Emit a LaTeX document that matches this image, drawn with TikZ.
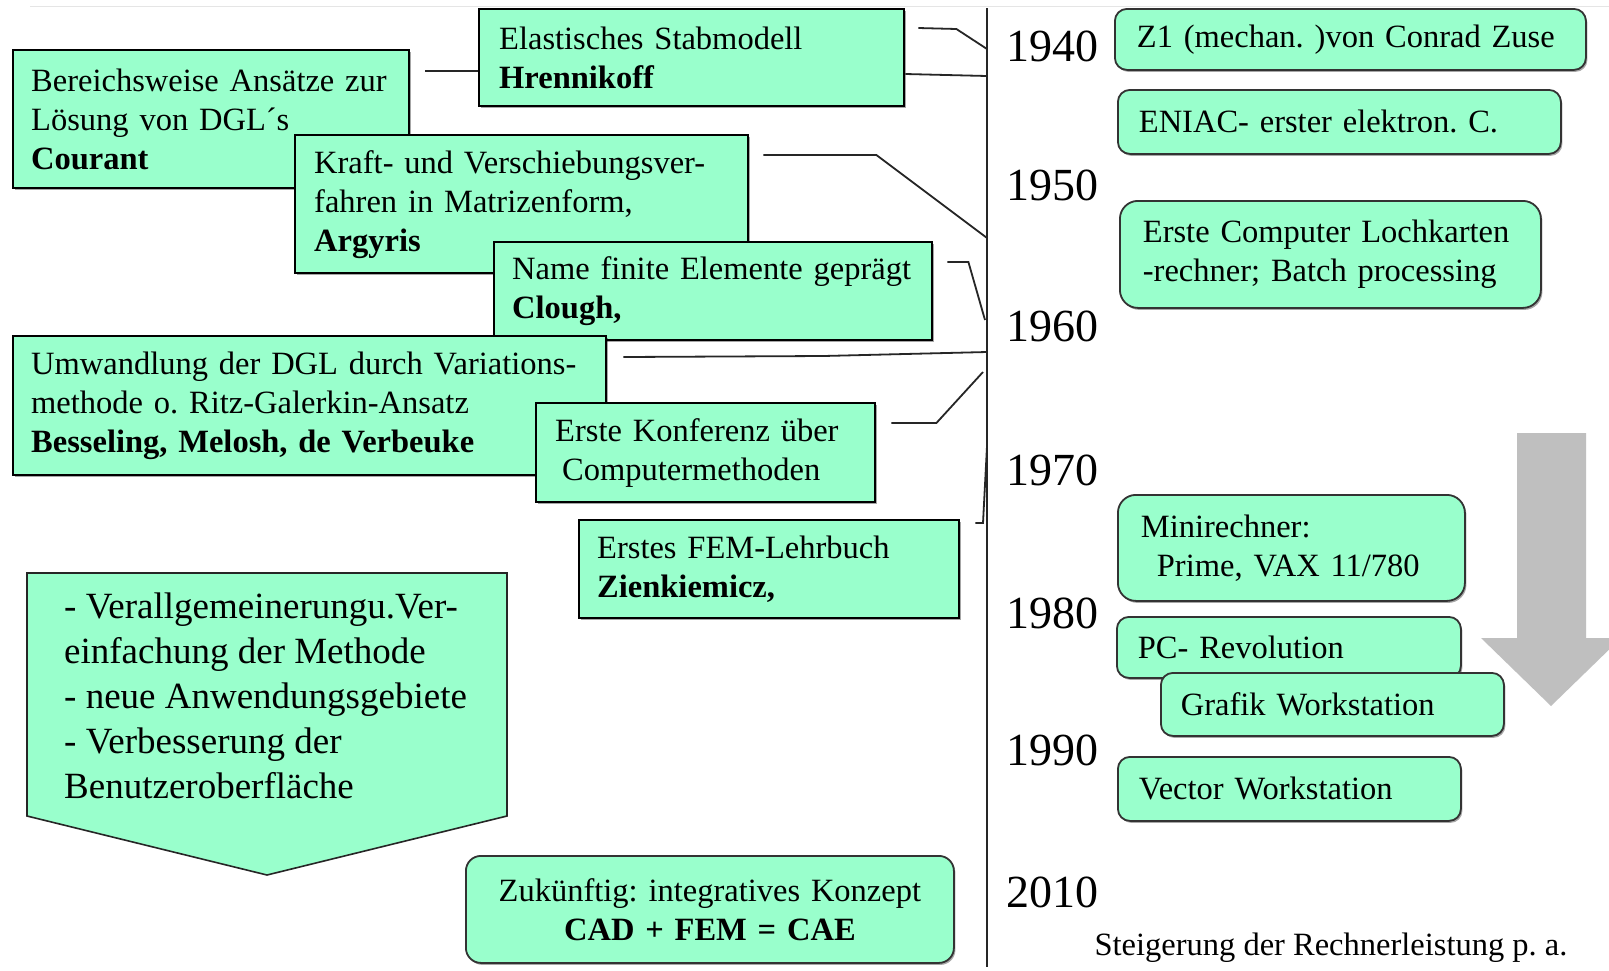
\documentclass[tikz,border=0pt]{standalone}
\usepackage{fontspec}
\setmainfont{Liberation Serif}
\usetikzlibrary{calc,shadows}
\definecolor{mint}{HTML}{99FFCC}
\definecolor{arrgray}{HTML}{BFBFBF}
\newcommand{\fsbox}{\fontsize{32.5}{39}\selectfont\frenchspacing}
\newcommand{\fsyear}{\fontsize{46}{50}\selectfont}
\newcommand{\fspent}{\fontsize{37}{45}\selectfont\frenchspacing}
\newcommand{\padl}[1]{\leftskip=#1pt\relax}
\begin{document}
\begin{tikzpicture}[x=1pt,y=-1pt,
  shad/.style={drop shadow={shadow xshift=1.5pt, shadow yshift=-2pt, opacity=0.35, fill=black}},
  sqbox/.style={draw=black, line width=2.4pt, fill=mint, anchor=north west, inner sep=0pt, align=left, font=\fsbox, shad},
  rdbox/.style={draw=black!80, line width=1.8pt, fill=mint, rounded corners=12pt, anchor=north west, inner sep=0pt, align=left, font=\fsbox, shad},
  year/.style={font=\fsyear, inner sep=0pt, anchor=center},
  conn/.style={draw=black!85, line width=1.8pt},
]
\useasboundingbox (0,0) rectangle (1609,970);
\fill[white] (0,0) rectangle (1609,970);
\draw[black!10, line width=1pt] (30,6) -- (1609,6);

% timeline
\coordinate (ttop) at (987,8);
\coordinate (tbot) at (987,967);
\draw[black!85, line width=2pt] (ttop) -- (tbot);

% years
\node[year] (y1940) at (1052,46) {1940};
\node[year] (y1950) at (1052,185) {1950};
\node[year] (y1960) at (1052,326) {1960};
\node[year] (y1970) at (1052,470) {1970};
\node[year] (y1980) at (1052,613) {1980};
\node[year] (y1990) at (1052,750) {1990};
\node[year] (y2010) at (1052,892) {2010};

% left boxes
\node[sqbox, minimum width=425, text width=425, minimum height=97] (hren) at (478,8)
  {\padl{20}Elastisches Stabmodell\\\textbf{Hrennikoff}\par};
\node[sqbox, minimum width=396, text width=396, minimum height=138] (courant) at (12,49)
  {\padl{18}Bereichsweise Ansätze zur\\Lösung von DGL´s\\\textbf{Courant}\par};
\node[sqbox, minimum width=453, text width=453, minimum height=138] (argyris) at (294,134)
  {\padl{19}Kraft- und Verschiebungsver-\\fahren in Matrizenform,\\\textbf{Argyris}\par};
\node[sqbox, minimum width=438, text width=438, minimum height=98] (clough) at (493,241)
  {\padl{18}Name finite Elemente geprägt\\\textbf{Clough,}\par};
\node[sqbox, minimum width=593, text width=593, minimum height=139] (bess) at (12,335)
  {\padl{18}Umwandlung der DGL durch Variations-\\methode o. Ritz-Galerkin-Ansatz\\\textbf{Besseling, Melosh, de Verbeuke}\par};
\node[sqbox, minimum width=339, text width=339, minimum height=99] (konf) at (535,402)
  {\padl{19}Erste Konferenz über\\\hspace*{7pt}Computermethoden\par};
\node[sqbox, minimum width=380, text width=380, minimum height=98] (zien) at (578,519)
  {\padl{18}Erstes FEM-Lehrbuch\\\textbf{Zienkiemicz,}\par};

% pentagon arrow
\path[draw=black!85, line width=1.6pt, fill=mint] (27,573) coordinate (p1) -- (507,573) coordinate (p2)
  -- (507,816) coordinate (p3) -- (267,875) coordinate (p4) -- (27,816) coordinate (p5) -- cycle;
\node[font=\fspent, align=left, anchor=west, inner sep=0pt] (pent) at (64,696)
  {- Verallgemeinerungu.Ver-\\einfachung der Methode\\- neue Anwendungsgebiete\\- Verbesserung der\\Benutzeroberfläche};

% future box
\node[rdbox, minimum width=488, text width=488, minimum height=107, align=center, rounded corners=15pt] (zuk) at (465,855)
  {Zukünftig: integratives Konzept\\\textbf{CAD + FEM = CAE}};

% right boxes
\node[rdbox, minimum width=471, text width=471, minimum height=61] (z1) at (1114,8)
  {\padl{22}Z1 (mechan. )von Conrad Zuse\par};
\node[rdbox, minimum width=443, text width=443, minimum height=64] (eniac) at (1117,89)
  {\padl{21}ENIAC- erster elektron. C.\par};
\node[rdbox, minimum width=421, text width=421, minimum height=107, rounded corners=18pt] (loch) at (1119,200)
  {\padl{23}Erste Computer Lochkarten\\-rechner; Batch processing\par};
\node[rdbox, minimum width=347, text width=347, minimum height=106, rounded corners=18pt] (mini) at (1117,494)
  {\padl{23}Minirechner:\\\hspace*{16pt}Prime, VAX 11/780\par};
\node[rdbox, minimum width=344, text width=344, minimum height=61] (pc) at (1116,616)
  {\padl{21}PC- Revolution\par};
\node[rdbox, minimum width=343, text width=343, minimum height=63] (grafik) at (1160,672)
  {\padl{20}Grafik Workstation\par};
\node[rdbox, minimum width=343, text width=343, minimum height=64] (vector) at (1117,756)
  {\padl{21}Vector Workstation\par};

% gray arrow
\fill[arrgray] (1517,433) -- (1586,433) -- (1586,638) -- (1621,638) -- (1551,706) -- (1481,638) -- (1517,638) -- cycle;

\node[font=\fsbox, inner sep=0pt] (steig) at (1331,948) {Steigerung der Rechnerleistung p. a.};

% connectors
\draw[conn] ($(hren.north east)+(13,20)$) -- ++(38,1) -- (ttop |- 0,49);
\draw[conn] ($(hren.north east)+(0,66)$) -- (ttop |- 0,76);
\draw[conn] ($(courant.north east)+(15,22)$) -- ($(hren.north west)+(0,63)$);
\draw[conn] ($(argyris.north east)+(14,21)$) -- ++(113,0) -- (ttop |- 0,238);
\draw[conn] ($(clough.north east)+(14,21)$) -- ++(21,0) -- ($(ttop |- 0,320)+(-2,0)$);
\draw[conn] ($(bess.north east)+(16,22)$) -- ++(200,-1) -- (ttop |- 0,352);
\draw[conn] ($(konf.north east)+(15,21)$) -- ++(45,0) -- ($(ttop |- 0,372)+(-4,0)$);
\draw[conn] (ttop |- 0,446) -- ($(ttop |- 0,523)+(-4,0)$) -- ($(zien.north east)+(15,4)$);
\end{tikzpicture}
\end{document}
